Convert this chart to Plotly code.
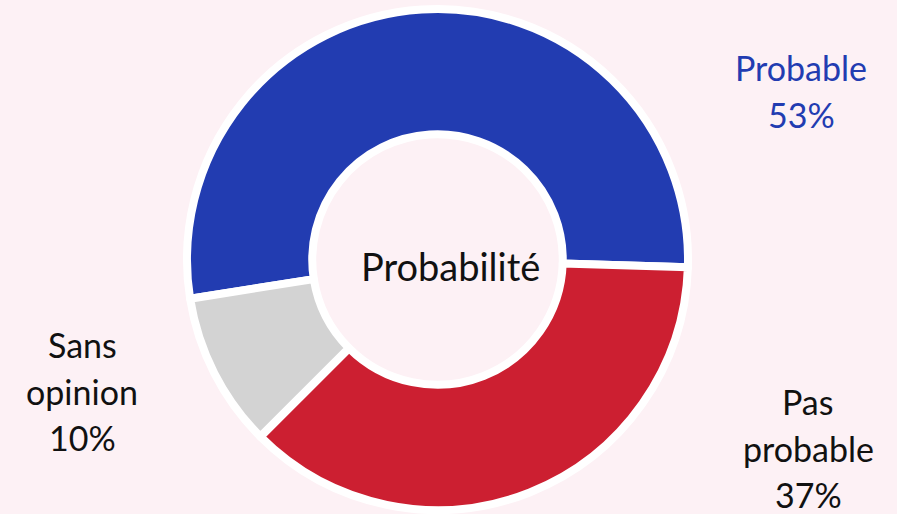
import plotly.graph_objects as go

W, H = 897, 514

labels = ["Probable", "Pas probable", "Sans opinion"]
label_lines = [["Probable"], ["Pas", "probable"], ["Sans", "opinion"]]
values = [53, 37, 10]
center_title = "Probabilité"

COLORS = ["#223cb1", "#cc1f31", "#d3d3d3"]
TEXT_COLORS = ["#223cb1", "#111111", "#111111"]
BG = "#fdf1f5"
FONT = "Lato, 'Noto Sans', sans-serif"

# label block placement (pixels, centre x, baseline of first line)
LABEL_POS = [(801, 80), (808, 414), (82, 357)]
LINE_STEP = 46.5
LABEL_SIZE = 34

# donut geometry in pixels
cx, cy, r = 437.5, 259.5, 250.5

fig = go.Figure(go.Pie(
    labels=labels,
    values=values,
    hole=0.5,
    sort=False,
    direction="clockwise",
    rotation=261,
    textinfo="none",
    marker=dict(colors=COLORS, line=dict(color="white", width=8)),
    domain=dict(x=[(cx - r) / W, (cx + r) / W], y=[1 - (cy + r) / H, 1 - (cy - r) / H]),
    showlegend=False,
))

annotations = []
for i, (lab, val) in enumerate(zip(label_lines, values)):
    lines = lab + [f"{val}%"]
    x0, base0 = LABEL_POS[i]
    for j, line in enumerate(lines):
        base = base0 + j * LINE_STEP
        mid = base - 0.36 * LABEL_SIZE
        annotations.append(dict(
            x=x0 / W, y=1 - mid / H, xref="paper", yref="paper",
            text=line, showarrow=False, xanchor="center", yanchor="middle",
            font=dict(family=FONT, size=LABEL_SIZE, color=TEXT_COLORS[i]),
        ))

annotations.append(dict(
    x=451 / W, y=1 - (280 - 0.36 * 38) / H, xref="paper", yref="paper",
    text=center_title, showarrow=False, xanchor="center", yanchor="middle",
    font=dict(family=FONT, size=38, color="#111111"),
))

fig.update_layout(
    width=W, height=H,
    margin=dict(l=0, r=0, t=0, b=0),
    paper_bgcolor=BG, plot_bgcolor=BG,
    annotations=annotations,
)

# page body has a default 8px margin, drop it so the chart fills the window
fig.write_html("out.html", config={"displayModeBar": False},
               post_script="document.body.style.margin='0';")
